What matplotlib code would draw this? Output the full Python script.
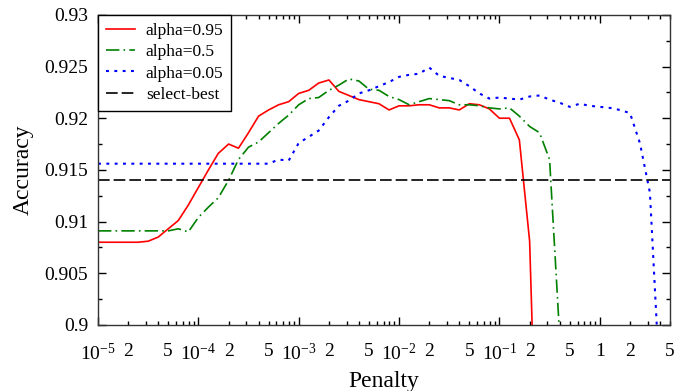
import math
import matplotlib
matplotlib.use("Agg")
import matplotlib.pyplot as plt
from matplotlib.ticker import FixedLocator, FuncFormatter

plt.rcParams['font.family'] = ['Liberation Serif', 'DejaVu Serif']
plt.rcParams['mathtext.fontset'] = 'custom'
plt.rcParams['mathtext.rm'] = 'Liberation Serif'
plt.rcParams['mathtext.it'] = 'Liberation Serif:italic'

# penalty grid (10 points per decade)
penalty = [
    1e-5, 1.26e-5, 1.58e-5, 2e-5, 2.51e-5, 3.16e-5, 3.98e-5, 5.01e-5, 6.31e-5, 7.94e-5,
    1e-4, 1.26e-4, 1.58e-4, 2e-4, 2.51e-4, 3.16e-4, 3.98e-4, 5.01e-4, 6.31e-4, 7.94e-4,
    1e-3, 1.26e-3, 1.58e-3, 2e-3, 2.51e-3, 3.16e-3, 3.98e-3, 5.01e-3, 6.31e-3, 7.94e-3,
    1e-2, 1.26e-2, 1.58e-2, 2e-2, 2.51e-2, 3.16e-2, 3.98e-2, 5.01e-2, 6.31e-2, 7.94e-2,
    1e-1, 1.26e-1, 1.58e-1, 2e-1, 2.51e-1, 3.16e-1, 3.98e-1, 5.01e-1, 6.31e-1, 7.94e-1,
    1.0, 1.26, 1.58, 2.0, 2.51, 3.16, 3.98,
]

acc_095 = [
    0.9080, 0.9080, 0.9080, 0.9080, 0.9080, 0.9081, 0.9085, 0.9093, 0.9101, 0.9116,
    0.9133, 0.9150, 0.9166, 0.9175, 0.9171, 0.9186, 0.9202, 0.9208, 0.9213, 0.9216,
    0.9224, 0.9227, 0.9234, 0.9237, 0.9226, 0.9222, 0.9218, 0.9216, 0.9214, 0.9208,
    0.9212, 0.9212, 0.9213, 0.9213, 0.9210, 0.9210, 0.9208, 0.9214, 0.9213, 0.9209,
    0.9200, 0.9200, 0.9179, 0.9081, 0.8760,
]

acc_05 = [
    0.9091, 0.9091, 0.9091, 0.9091, 0.9091, 0.9091, 0.9091, 0.9091, 0.9093, 0.9090,
    0.9104, 0.9114, 0.9123, 0.9140, 0.9160, 0.9172, 0.9177, 0.9186, 0.9195, 0.9203,
    0.9213, 0.9219, 0.9220, 0.9227, 0.9232, 0.9238, 0.9236, 0.9228, 0.9227, 0.9221,
    0.9218, 0.9213, 0.9216, 0.9219, 0.9218, 0.9217, 0.9213, 0.9213, 0.9212, 0.9210,
    0.9209, 0.9210, 0.9202, 0.9192, 0.9186, 0.9160, 0.8990,
]

acc_005 = [
    0.9156, 0.9156, 0.9156, 0.9156, 0.9156, 0.9156, 0.9156, 0.9156, 0.9156, 0.9156,
    0.9156, 0.9156, 0.9156, 0.9156, 0.9156, 0.9156, 0.9156, 0.9156, 0.9160, 0.9159,
    0.9176, 0.9182, 0.9188, 0.9201, 0.9212, 0.9217, 0.9224, 0.9227, 0.9231, 0.9235,
    0.9240, 0.9242, 0.9243, 0.9249, 0.9241, 0.9239, 0.9237, 0.9231, 0.9224, 0.9219,
    0.9220, 0.9219, 0.9218, 0.9221, 0.9222, 0.9218, 0.9215, 0.9211, 0.9214, 0.9212,
    0.9211, 0.9210, 0.9208, 0.9205, 0.9176, 0.9128, 0.8940,
]

select_best = 0.9140

fig = plt.figure(figsize=(6.76, 3.91), dpi=100)
ax = fig.add_axes([0.145, 0.169, 0.846, 0.793])

ax.plot(penalty[:len(acc_095)], acc_095, color='#ff0000', lw=1.2, label='alpha=0.95')
ax.plot(penalty[:len(acc_05)], acc_05, color='#008000', lw=1.2,
        linestyle=(0, (8, 2.5, 1, 2.5)), label='alpha=0.5')
ax.plot(penalty[:len(acc_005)], acc_005, color='#0000ff', lw=1.5,
        linestyle=(0, (1.4, 2.6)), label='alpha=0.05')
ax.axhline(select_best, color='black', lw=1.2, linestyle=(0, (7, 2.4)), label='select-best')

ax.set_xscale('log')
ax.set_xlim(1e-5, 5)
ax.set_ylim(0.9, 0.93)

# x ticks: decades as major, 2..9 as minor, labels on 2 and 5
majors = [1e-5, 1e-4, 1e-3, 1e-2, 1e-1, 1]
minors = [m * d for d in majors for m in range(2, 10) if m * d <= 5]
ax.xaxis.set_major_locator(FixedLocator(majors))
ax.xaxis.set_minor_locator(FixedLocator(minors))

def major_fmt(x, pos):
    if abs(x - 1) < 1e-9:
        return '1'
    e = int(round(math.log10(x)))
    return '10$^{%d}$' % e

def minor_fmt(x, pos):
    m = int(round(x / 10 ** math.floor(math.log10(x) + 1e-9)))
    return str(m) if m in (2, 5) else ''

ax.xaxis.set_major_formatter(FuncFormatter(major_fmt))
ax.xaxis.set_minor_formatter(FuncFormatter(minor_fmt))

ax.yaxis.set_major_locator(FixedLocator([0.9, 0.905, 0.91, 0.915, 0.92, 0.925, 0.93]))
ax.yaxis.set_minor_locator(FixedLocator([0.9025, 0.9075, 0.9125, 0.9175, 0.9225, 0.9275]))
ax.yaxis.set_major_formatter(FuncFormatter(lambda v, p: '%g' % round(v, 4)))

ax.tick_params(which='both', direction='in', top=True, right=True, labelsize=14, width=1.0)
ax.tick_params(which='major', length=6)
ax.tick_params(which='minor', length=3)
ax.tick_params(axis='x', which='both', pad=13)
ax.tick_params(axis='y', which='both', pad=7)

for s in ax.spines.values():
    s.set_linewidth(1.0)
    s.set_color('#333333')

ax.set_xlabel('Penalty', fontsize=17, labelpad=5)
ax.set_ylabel('Accuracy', fontsize=17, labelpad=8)

leg = ax.legend(loc='upper left', bbox_to_anchor=(0, 1), borderaxespad=0,
                fontsize=12.5, fancybox=False, framealpha=1, edgecolor='black',
                handlelength=1.7, handletextpad=0.6, labelspacing=0.3, borderpad=0.45)
leg.get_frame().set_linewidth(1.0)

fig.savefig('out.png', dpi=100)
